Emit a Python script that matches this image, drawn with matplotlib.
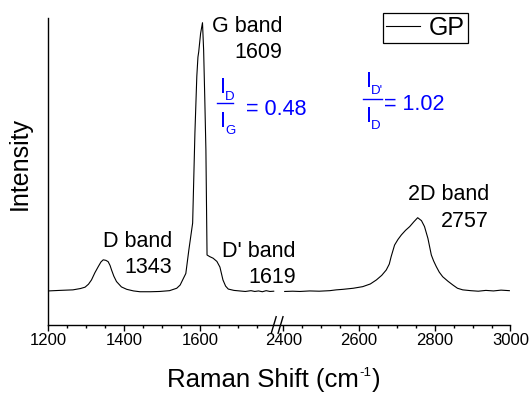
import matplotlib
matplotlib.use('Agg')
import matplotlib.pyplot as plt
from matplotlib.lines import Line2D
import matplotlib.transforms as mtransforms

plt.rcParams['font.family'] = ['Liberation Sans', 'DejaVu Sans']

# ---------------- data ----------------
# low-wavenumber segment (D, G, D' bands)
low_shift = [1200, 1230, 1265, 1285, 1297, 1306, 1314, 1323, 1332, 1339, 1345, 1352,
             1358, 1363, 1367, 1373, 1380, 1393, 1407, 1425, 1442, 1470, 1494, 1520,
             1539, 1548, 1556, 1563, 1571, 1581, 1587, 1592, 1595, 1597, 1602, 1607,
             1610, 1613, 1616, 1619, 1626, 1635, 1645, 1653, 1661, 1668, 1675, 1690,
             1705, 1720, 1735, 1745, 1755, 1765, 1775, 1785, 1795]
low_int = [0.000, 0.002, 0.004, 0.009, 0.014, 0.025, 0.041, 0.068, 0.091, 0.108, 0.116, 0.114,
           0.109, 0.095, 0.078, 0.055, 0.035, 0.015, 0.006, 0.000, -0.003, -0.003, -0.002, 0.001,
           0.010, 0.022, 0.045, 0.065, 0.153, 0.253, 0.589, 0.800, 0.872, 0.891, 0.960, 1.000,
           0.898, 0.720, 0.526, 0.134, 0.128, 0.122, 0.110, 0.089, 0.041, 0.018, 0.007, 0.002,
           0.000, -0.002, 0.001, -0.002, 0.000, -0.003, 0.001, -0.002, -0.001]

# high-wavenumber segment (2D band)
high_shift = [2404, 2425, 2444, 2470, 2495, 2523, 2540, 2558, 2585, 2610, 2630, 2646,
              2660, 2672, 2680, 2685, 2694, 2703, 2712, 2723, 2734, 2745, 2755, 2765,
              2773, 2782, 2791, 2797, 2804, 2812, 2821, 2835, 2848, 2860, 2874, 2895,
              2915, 2935, 2955, 2975, 2997]
high_int = [-0.002, -0.001, -0.002, 0.000, -0.001, 0.001, 0.004, 0.006, 0.010, 0.016, 0.026, 0.041,
            0.058, 0.078, 0.100, 0.128, 0.171, 0.192, 0.209, 0.226, 0.240, 0.258, 0.273, 0.262,
            0.240, 0.196, 0.134, 0.112, 0.091, 0.070, 0.053, 0.036, 0.022, 0.010, 0.004, 0.001,
            -0.001, 0.002, 0.000, 0.003, 0.001]

series_name = 'GP'
major_ticks = [1200, 1400, 1600, 2400, 2600, 2800, 3000]
minor_ticks = [1250, 1300, 1350, 1450, 1500, 1550, 1650, 1700, 1750,
               2450, 2500, 2550, 2650, 2700, 2750, 2850, 2900, 2950]
break_lo, break_hi = 1800, 2380
x_min, x_max = 1200, 3000

peak_names = ['D band', 'G band', "D' band", '2D band']
peak_positions = ['1343', '1609', '1619', '2757']
ratio_values = ['0.48', '1.02']


def axis_pos(v):
    """Map a Raman shift to the broken-axis coordinate."""
    return v if v <= break_lo else v - (break_hi - break_lo)


W, H = 531, 397
fig = plt.figure(figsize=(W / 100, H / 100), dpi=100)
ax = fig.add_axes([48.3 / W, 1 - 325 / H, (510.5 - 48.3) / W, (325 - 18) / H])


def fx(px):
    return px / W


def fy(py):
    return 1 - py / H


ax.plot([axis_pos(v) for v in low_shift], low_int, color='black', lw=0.8, label=series_name)
ax.plot([axis_pos(v) for v in high_shift], high_int, color='black', lw=0.8)

ax.set_xlim(axis_pos(x_min), axis_pos(x_max))
ax.set_ylim(-0.127, 1.0175)
ax.set_xticks([axis_pos(v) for v in major_ticks])
ax.set_xticklabels([str(v) for v in major_ticks])
ax.set_xticks([axis_pos(v) for v in minor_ticks], minor=True)
ax.set_yticks([])
ax.tick_params(axis='x', which='major', direction='out', length=4.5, width=1.0,
               labelsize=12, pad=1.5)
ax.tick_params(axis='x', which='minor', direction='out', length=2.5, width=1.0)
for s in ['top', 'right']:
    ax.spines[s].set_visible(False)
for s in ['left', 'bottom']:
    ax.spines[s].set_linewidth(1.0)

ax.set_ylabel('Intensity', fontsize=18)
ax.yaxis.set_label_coords(-0.036, 0.525)

# x label with small superscript, built piece by piece
renderer = fig.canvas.get_renderer()
t_main = fig.text(fx(167), fy(387), 'Raman Shift (cm', fontsize=18.5, va='baseline')
bb = t_main.get_window_extent(renderer)
x_next = bb.x1 / W + 0.8 / W
t_sup = fig.text(x_next, fy(376), '-1', fontsize=9.5, va='baseline')
bb2 = t_sup.get_window_extent(renderer)
fig.text(bb2.x1 / W + 0.5 / W, fy(387), ')', fontsize=18.5, va='baseline')

# axis break marks
trans = mtransforms.blended_transform_factory(ax.transData, ax.transAxes)
for cx in [1795, 1813]:
    ax.plot([cx - 6.5, cx + 6.5], [-0.027, 0.027], transform=trans, color='black',
            lw=1.0, clip_on=False)

# legend
leg = ax.legend(loc='upper left', bbox_to_anchor=(fx(383.3), fy(12.7)),
                bbox_transform=fig.transFigure, fontsize=18, frameon=True,
                fancybox=False, edgecolor='black', framealpha=1, borderpad=0.12,
                handlelength=1.35, handletextpad=0.35, borderaxespad=0)
leg.get_frame().set_linewidth(0.9)

# peak annotations (right aligned two-line labels)
fs = 15.5
label_layout = [(172.5, 247, 273), (282, 31.7, 58.3), (296, 257, 283), (489, 200, 227)]
for (xr, y1, y2), name, pos in zip(label_layout, peak_names, peak_positions):
    fig.text(fx(xr), fy(y1), name, fontsize=fs, ha='right', va='baseline')
    fig.text(fx(xr), fy(y2), pos, fontsize=fs, ha='right', va='baseline')

# intensity ratio fractions (blue)
blue = '#0000ff'


def ratio(x_bar0, x_bar1, y_bar, xi, yi_top, yi_bot, sub_top, sub_bot, xeq, yeq, value):
    fig.text(fx(xi), fy(yi_top), 'I', fontsize=15.5, color=blue, va='baseline')
    fig.text(fx(xi + 5.3), fy(yi_top + 7), sub_top, fontsize=9.5, color=blue, va='baseline')
    fig.add_artist(Line2D([fx(x_bar0), fx(x_bar1)], [fy(y_bar), fy(y_bar)],
                          transform=fig.transFigure, color=blue, lw=1.0))
    fig.text(fx(xi), fy(yi_bot), 'I', fontsize=15.5, color=blue, va='baseline')
    fig.text(fx(xi + 5.3), fy(yi_bot + 7), sub_bot, fontsize=9.5, color=blue, va='baseline')
    fig.text(fx(xeq), fy(yeq), '= ' + value, fontsize=15.5, color=blue, va='baseline')


ratio(216.7, 233.3, 103.3, 220.0, 93.3, 126.7, 'D', 'G', 245.5, 115, ratio_values[0])
ratio(362.7, 381.7, 99.0, 365.6, 86.7, 121.7, "D'", 'D', 384.0, 110, ratio_values[1])

fig.savefig('out.png', dpi=100)
